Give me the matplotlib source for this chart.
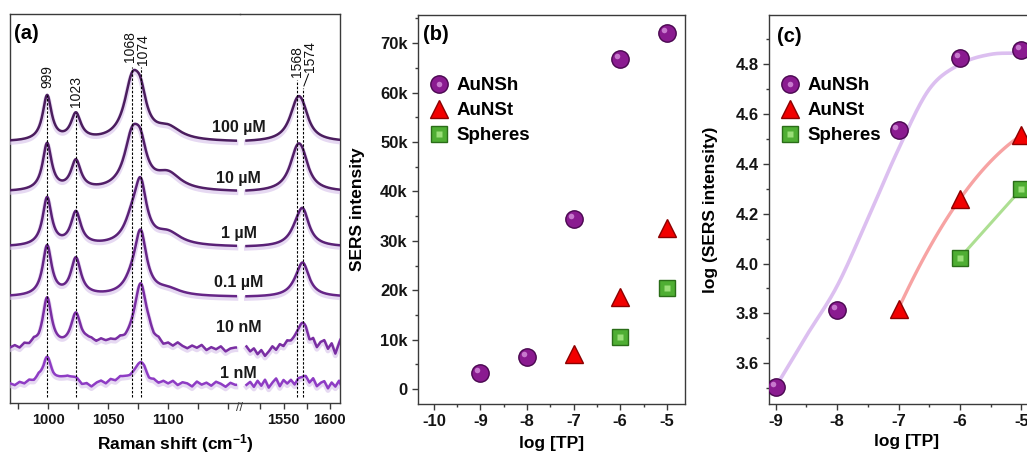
import numpy as np
import matplotlib
matplotlib.use("Agg")
import matplotlib.pyplot as plt
import matplotlib.patheffects as pe
from matplotlib.ticker import MultipleLocator, FixedLocator, FuncFormatter
from matplotlib.transforms import offset_copy

plt.rcParams['font.family'] = ['Liberation Sans', 'DejaVu Sans']
plt.rcParams['axes.unicode_minus'] = False
plt.rcParams['mathtext.fontset'] = 'custom'
plt.rcParams['mathtext.rm'] = 'Liberation Sans:bold'
plt.rcParams['mathtext.bf'] = 'Liberation Sans:bold'
plt.rcParams['mathtext.default'] = 'bf'

# ---------------- data ----------------
# (a) Raman spectra, modelled as Lorentzian bands (heights in a.u.)
conc_labels = ['100 µM', '10 µM', '1 µM', '0.1 µM', '10 nM', '1 nM']
peak_pos = [999, 1023, 1070, 1077, 1100, 1565, 1571]
peak_fwhm = [9, 10, 16, 12, 26, 20, 16]
heights_100uM = [45, 26, 55, 30, 12, 36, 14]
heights_10uM = [47, 29, 50, 30, 16, 38, 15]
heights_1uM = [48, 33, 20, 55, 12, 12, 30]
heights_01uM = [50, 37, 10, 60, 6, 6, 30]
heights_10nM = [50, 34, 5, 62, 0, 3, 24]
heights_1nM = [28, 4, 4, 20, 0, 0, 8]
# noise, every 4 cm-1
ripple_10nM_left = [0, 2, -1, 3, 1, 4, 0, 0, 0, 0, 0, 0, 0, 0, 0, 1, 4, 5, 3, 6, 4, 5, 3, 4,
                    0, 0, 0, 0, 2, 5, 1, 3, -1, 2, 0, 4, 1, -1, 2, 0, 3, -2, 1, -1, 2, -3, 0, 1]
ripple_10nM_right = [2, -3, 0, -6, -2, -8, -4, 1, -3, 2, -1, 3, 0, 0, 0, 0, 0, -5, 2, -4,
                     3, 6, -2, 4, -6, 5, 14]
ripple_1nM_left = [1, -1, 2, 0, 3, 1, 4, 0, 0, 0, 3, 5, 6, 4, 2, -2, 0, -3, 1, 3,
                   0, 4, 2, 5, 3, 0, 0, 0, 2, -2, 1, -1, 2, 0, 3, -1, 2, 1, -2, 3,
                   0, 2, -1, 3, 1, -2, 2, 0]
ripple_1nM_right = [0, 3, -2, 4, -1, 5, -3, 2, 6, -2, 4, 0, 3, -3, 1, 0, 2, -2, 4, -3,
                    1, 3, -4, 2, -2, 4, -5]
peak_marks = ['999', '1023', '1068', '1074', '1568', '1574']

# (b) SERS intensity vs log[TP]
logTP = [-9, -8, -7, -6, -5]
aunsh_b = [3200, 6500, 34400, 66800, 72000]
aunst_x = [-7, -6, -5]
aunst_b = [7200, 18700, 32700]
sph_x = [-6, -5]
sph_b = [10600, 20400]

# (c) log(SERS intensity) vs log[TP]
aunsh_c = [3.505, 3.812, 4.535, 4.824, 4.858]
aunst_c = [3.819, 4.259, 4.515]
sph_c = [4.023, 4.299]
# fitted dose-response curve for AuNSh
fit_x = [-9, -8.5, -8, -7.5, -7, -6.5, -6, -5.5, -5]
fit_y = [3.505, 3.71, 3.91, 4.18, 4.46, 4.70, 4.80, 4.84, 4.845]

# ---------------- layout ----------------
W, H = 1027, 455
fig = plt.figure(figsize=(W / 100, H / 100), dpi=100)


def fbox(left, top, right, bottom):
    return [left / W, (H - bottom) / H, (right - left) / W, (bottom - top) / H]


spine_col = '#3a3a3a'


def style(ax, size):
    for s in ax.spines.values():
        s.set_color(spine_col)
        s.set_linewidth(1.0)
    ax.tick_params(which='both', direction='out', colors=spine_col, labelcolor='#141414',
                   labelsize=size, width=1.0)
    ax.tick_params(which='major', length=4)
    ax.tick_params(which='minor', length=2.5)
    for lab in ax.get_xticklabels() + ax.get_yticklabels():
        lab.set_fontweight('bold')


# ---------------- (a) ----------------
axL = fig.add_axes(fbox(10, 14, 240, 403))
axR = fig.add_axes(fbox(240, 14, 340, 403), sharey=axL)
axR.patch.set_visible(False)
axL.set_xlim(968, 1160)
axR.set_xlim(1503, 1611)
axL.set_ylim(0, 389)

xl = np.arange(968, 1157, 0.5)
xr = np.arange(1510, 1612, 0.5)
grid_l = np.arange(968, 1160, 4)
grid_r = np.arange(1510, 1615, 4)


def spectrum(x, heights):
    y = np.zeros_like(x)
    for p, w, h in zip(peak_pos, peak_fwhm, heights):
        y += h / (1 + ((x - p) / (w / 2)) ** 2)
    return y


all_heights = [heights_100uM, heights_10uM, heights_1uM, heights_01uM, heights_10nM, heights_1nM]
ripples = [None, None, None, None,
           (ripple_10nM_left, ripple_10nM_right), (ripple_1nM_left, ripple_1nM_right)]
offsets = [261, 211, 156, 106, 54, 18]
label_dy = [15, 14, 14, 15, 21, 12]
colors = ['#4b1d5e', '#521f68', '#5a2177', '#662587', '#7a2ea3', '#8e3cc4']

for hts, rip, off, col, lab, dy in zip(all_heights, ripples, offsets, colors, conc_labels, label_dy):
    yl = spectrum(xl, hts) + off
    yr = spectrum(xr, hts) + off
    if rip is not None:
        yl = yl + np.interp(xl, grid_l, rip[0])
        yr = yr + np.interp(xr, grid_r, rip[1])
    eff = [pe.SimpleLineShadow(offset=(0, -1.5), shadow_color='#d6c0ea', alpha=0.6, linewidth=3.6),
           pe.Normal()]
    axL.plot(xl, yl, color=col, lw=1.8, path_effects=eff, zorder=3)
    axR.plot(xr, yr, color=col, lw=1.8, path_effects=eff, zorder=3)
    axL.text(1159, off + dy, lab, ha='center', va='center', fontsize=11.5,
             fontweight='bold', color='#1a1a1a', zorder=5)

# dashed peak markers and their labels
mark_x = [999, 1023, 1070, 1077, 1565, 1571]
mark_top = [308, 290, 336, 336, 323, 315]
lab_x = [999, 1023, 1068.5, 1079, 1565, 1579]
lab_y = [315, 296, 341, 338, 326, 331]
for i, (mx, mt, lx, ly, txt) in enumerate(zip(mark_x, mark_top, lab_x, lab_y, peak_marks)):
    ax = axL if mx < 1200 else axR
    ax.plot([mx, mx], [6, mt], ls=(0, (2.2, 1.5)), color='black', lw=0.8, zorder=4)
    ax.text(lx, ly, txt, rotation=90, ha='center', va='bottom', fontsize=10, color='#111111')
axR.plot([1577, 1572], [329, 317], color='black', lw=0.7)

axL.spines['right'].set_visible(False)
axR.spines['left'].set_visible(False)
axL.set_yticks([])
axR.tick_params(left=False, labelleft=False)
axL.xaxis.set_major_locator(FixedLocator([1000, 1050, 1100]))
axL.xaxis.set_minor_locator(FixedLocator([975, 1025, 1075, 1125, 1150]))
axR.xaxis.set_major_locator(FixedLocator([1550, 1600]))
axR.xaxis.set_minor_locator(FixedLocator([1525, 1575]))
style(axL, 10.5)
style(axR, 10.5)
for ax in (axL, axR):
    ax.tick_params(which='minor', length=4)
axL.text(0.018, 0.975, '(a)', transform=axL.transAxes, ha='left', va='top',
         fontsize=14.5, fontweight='bold')
fig.text(240 / W, (H - 408) / H, '//', ha='center', va='center', fontsize=9, color=spine_col)
fig.text(175 / W, (H - 432) / H, r'Raman shift (cm$^{-1}$)', ha='center', va='top',
         fontsize=12.5, fontweight='bold')

# ---------------- markers ----------------
sh_face, sh_edge, sh_hl = '#8a1b90', '#4a0750', '#d28ad8'
tr_face, tr_edge = '#f20000', '#8c0000'
sq_face, sq_edge, sq_hl = '#4fae33', '#2a6d18', '#9ade78'


def draw_markers(ax, x_sh, y_sh, x_tr, y_tr, x_sq, y_sq):
    hl_tr = offset_copy(ax.transData, fig=fig, x=-2.2, y=2.2, units='points')
    a = ax.plot(x_sh, y_sh, ls='none', marker='o', ms=12.5, mfc=sh_face, mec=sh_edge,
                mew=1.0, zorder=5, clip_on=True)[0]
    a2 = ax.plot(x_sh, y_sh, ls='none', marker='o', ms=4, mfc=sh_hl, mec='none',
                 alpha=0.85, zorder=6, transform=hl_tr)[0]
    b = ax.plot(x_tr, y_tr, ls='none', marker='^', ms=12.5, mfc=tr_face, mec=tr_edge,
                mew=1.0, zorder=5)[0]
    c = ax.plot(x_sq, y_sq, ls='none', marker='s', ms=11, mfc=sq_face, mec=sq_edge,
                mew=1.0, zorder=5)[0]
    c2 = ax.plot(x_sq, y_sq, ls='none', marker='s', ms=5, mfc=sq_hl, mec='none',
                 zorder=6)[0]
    return [(a, a2), b, (c, c2)]


legend_kw = dict(frameon=False, loc='upper left', prop={'weight': 'bold', 'size': 13.5},
                 handlelength=1.2, handletextpad=0.35, labelspacing=0.42, borderpad=0,
                 borderaxespad=0)
names = ['AuNSh', 'AuNSt', 'Spheres']

# ---------------- (b) ----------------
axb = fig.add_axes(fbox(418, 15, 685, 404))
hb = draw_markers(axb, logTP, aunsh_b, aunst_x, aunst_b, sph_x, sph_b)
axb.set_xlim(-10.34, -4.61)
axb.set_ylim(-3000, 75700)
axb.xaxis.set_major_locator(MultipleLocator(1))
axb.xaxis.set_minor_locator(MultipleLocator(0.5))
axb.yaxis.set_major_locator(MultipleLocator(10000))
axb.yaxis.set_minor_locator(MultipleLocator(5000))
axb.yaxis.set_major_formatter(FuncFormatter(lambda v, p: '0' if v == 0 else f'{v / 1000:.0f}k'))
axb.xaxis.set_major_formatter(FuncFormatter(lambda v, p: f'{v:.0f}'))
style(axb, 12)
axb.set_xlabel('log [TP]', fontsize=12.5, fontweight='bold')
axb.set_ylabel('SERS intensity', fontsize=12.5, fontweight='bold')
axb.xaxis.set_label_coords(0.5, -0.083)
axb.yaxis.set_label_coords(-0.2, 0.5)
axb.text(0.02, 0.975, '(b)', transform=axb.transAxes, ha='left', va='top',
         fontsize=14.5, fontweight='bold')
axb.legend(hb, names, bbox_to_anchor=(0.035, 0.84), **legend_kw)

# ---------------- (c) ----------------
axc = fig.add_axes(fbox(769, 15, 1044, 404))
fx, fy = [], []
slopes = np.gradient(np.array(fit_y), np.array(fit_x))
for i in range(len(fit_x) - 1):
    h = fit_x[i + 1] - fit_x[i]
    t = np.linspace(0, 1, 25)
    fx.append(fit_x[i] + t * h)
    fy.append((2 * t**3 - 3 * t**2 + 1) * fit_y[i] + (t**3 - 2 * t**2 + t) * h * slopes[i]
              + (-2 * t**3 + 3 * t**2) * fit_y[i + 1] + (t**3 - t**2) * h * slopes[i + 1])
axc.plot(np.concatenate(fx), np.concatenate(fy), color='#dcbff0', lw=2.6, zorder=2)
coef = np.polyfit(aunst_x, aunst_c, 2)
xt = np.linspace(aunst_x[0], aunst_x[-1], 60)
axc.plot(xt, np.polyval(coef, xt), color='#f7a3a3', lw=2.4, zorder=2)
axc.plot(sph_x, sph_c, color='#addf92', lw=2.2, zorder=2)
hc = draw_markers(axc, logTP, aunsh_c, aunst_x, aunst_c, sph_x, sph_c)
axc.set_xlim(-9.11, -4.63)
axc.set_ylim(3.436, 4.998)
axc.xaxis.set_major_locator(MultipleLocator(1))
axc.xaxis.set_minor_locator(MultipleLocator(0.5))
axc.yaxis.set_major_locator(MultipleLocator(0.2))
axc.yaxis.set_minor_locator(MultipleLocator(0.1))
axc.xaxis.set_major_formatter(FuncFormatter(lambda v, p: f'{v:.0f}'))
axc.yaxis.set_major_formatter(FuncFormatter(lambda v, p: f'{v:.1f}'))
style(axc, 12)
axc.set_xlabel('log [TP]', fontsize=12.5, fontweight='bold')
axc.set_ylabel('log (SERS intensity)', fontsize=12.5, fontweight='bold')
axc.xaxis.set_label_coords(0.5, -0.078)
axc.yaxis.set_label_coords(-0.185, 0.5)
axc.text(0.03, 0.97, '(c)', transform=axc.transAxes, ha='left', va='top',
         fontsize=14.5, fontweight='bold')
axc.legend(hc, names, bbox_to_anchor=(0.035, 0.84), **legend_kw)

fig.savefig('out.png', dpi=100)
